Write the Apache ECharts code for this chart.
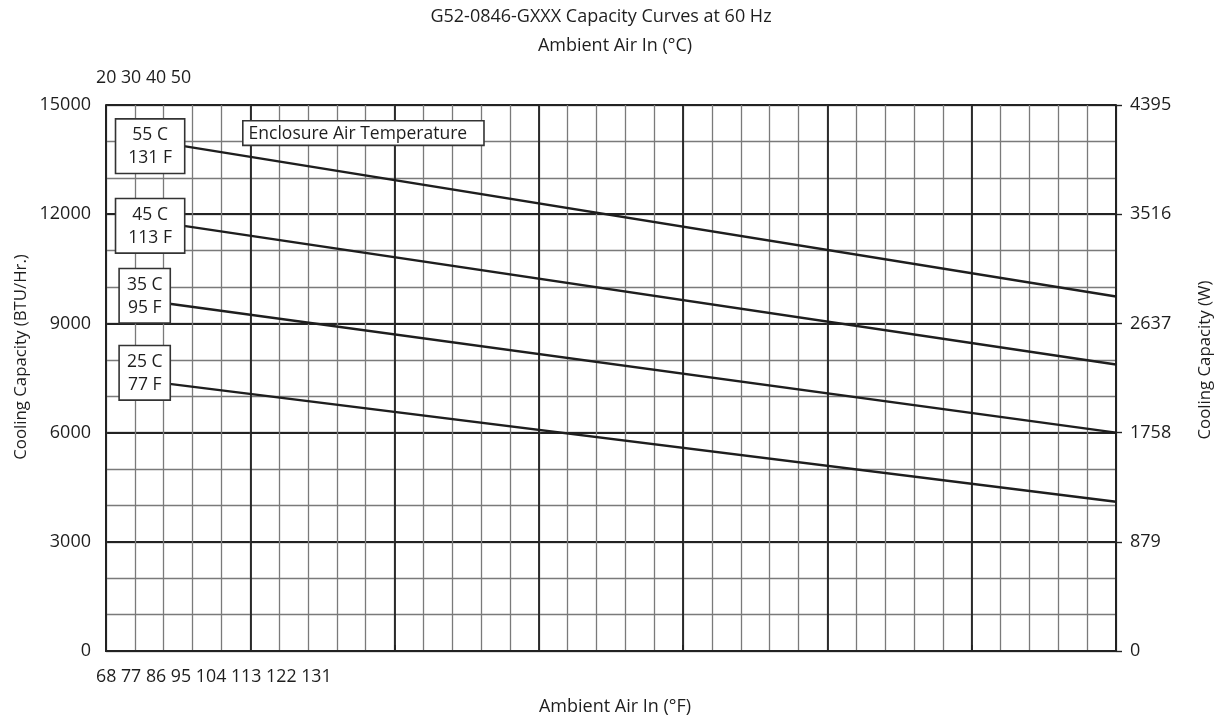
<!DOCTYPE html>
<html>
<head>
<meta charset="utf-8">
<script src="https://cdn.jsdelivr.net/npm/echarts@6/dist/echarts.min.js"></script>
<style>
  html, body { margin: 0; padding: 0; background: #fff; }
  #chart { width: 1223px; height: 720px; }
</style>
</head>
<body>
<div id="chart"></div>
<script>
// ambient air in °C (x) vs cooling capacity BTU/Hr (y), one line per enclosure temp
const curveNames = ['55 C\n131 F', '45 C\n113 F', '35 C\n95 F', '25 C\n77 F'];
const curveStartC = [22.7, 22.7, 22.2, 22.2];
const curveEndC = [55, 55, 55, 55];
const curveStartBtu = [13870, 11680, 9540, 7340];
const curveEndBtu = [9740, 7870, 6000, 4100];
// label box tweaks so they sit like the original
const labelShift = [0, 0, -8, -11];
const labelPadX = [12, 12, 7, 7];

const celsiusTicks = ['20', '30', '40', '50'];
const fahrenheitTicks = ['68', '77', '86', '95', '104', '113', '122', '131'];
const wattTicks = [0, 879, 1758, 2637, 3516, 4395];

const FONT = '"Open Sans", "DejaVu Sans", sans-serif';
const INK = '#1e1e1e';
const MINOR = '#7a7a7a';
const MAJOR = '#222';

const series = curveNames.map((name, i) => ({
  name: name,
  type: 'line',
  xAxisIndex: 0,
  yAxisIndex: 0,
  symbol: 'circle',
  symbolSize: 0.01,
  lineStyle: { color: INK, width: 2.4 },
  itemStyle: { color: INK },
  emphasis: { disabled: true },
  z: 5,
  data: [
    {
      value: [curveStartC[i], curveStartBtu[i]],
      label: {
        show: true,
        position: 'left',
        distance: 0,
        offset: [0, labelShift[i]],
        formatter: name.split('\n').map(s => '{c|' + s + '}').join('\n'),
        rich: {
          c: { fontFamily: FONT, fontSize: 17.5, lineHeight: 23, align: 'center', color: INK }
        },
        backgroundColor: '#fff',
        borderColor: '#333',
        borderWidth: 1.6,
        padding: [4, labelPadX[i], 3, labelPadX[i]]
      }
    },
    [curveEndC[i], curveEndBtu[i]]
  ]
}));

const chart = echarts.init(document.getElementById('chart'));
chart.setOption({
  backgroundColor: '#fff',
  animation: false,
  grid: { left: 106, right: 107, top: 105, bottom: 69 },
  xAxis: [
    {
      type: 'value', position: 'bottom', min: 20, max: 55, interval: 1,
      axisLine: { show: true, lineStyle: { color: MAJOR, width: 2 } },
      axisTick: { show: false },
      axisLabel: { show: false },
      splitLine: { show: true, lineStyle: { color: MINOR, width: 1.3 } }
    },
    {
      type: 'value', position: 'top', min: 20, max: 55, interval: 10,
      axisLine: { show: true, lineStyle: { color: MAJOR, width: 2 } },
      axisTick: { show: true, length: 6, lineStyle: { color: MAJOR, width: 1.6 } },
      axisLabel: { show: false },
      minorTick: { show: false, splitNumber: 2 },
      splitLine: { show: true, lineStyle: { color: MAJOR, width: 1.8 } },
      minorSplitLine: { show: true, lineStyle: { color: MAJOR, width: 1.8 } }
    }
  ],
  yAxis: [
    {
      type: 'value', position: 'left', min: 0, max: 15000, interval: 1000,
      axisLine: { show: true, lineStyle: { color: MAJOR, width: 2 } },
      axisTick: { show: false },
      axisLabel: {
        margin: 15, color: INK, fontFamily: FONT, fontSize: 18,
        formatter: v => (v % 3000 === 0 ? String(v) : '')
      },
      splitLine: { show: true, lineStyle: { color: MINOR, width: 1.3 } }
    },
    {
      type: 'value', position: 'right', min: 0, max: wattTicks[wattTicks.length - 1], interval: 879,
      axisLine: { show: true, lineStyle: { color: MAJOR, width: 2 } },
      axisTick: { show: true, length: 6, lineStyle: { color: MAJOR, width: 1.4 } },
      axisLabel: {
        margin: 14, color: INK, fontFamily: FONT, fontSize: 18,
        formatter: v => String(v)
      },
      splitLine: { show: true, lineStyle: { color: MAJOR, width: 1.8 } }
    }
  ],
  graphic: [
    {
      type: 'text', x: 601, y: 17,
      style: {
        text: 'G52-0846-GXXX Capacity Curves at 60 Hz', font: '18px ' + FONT, fill: INK,
        align: 'center', verticalAlign: 'middle'
      }
    },
    {
      type: 'text', x: 615, y: 46,
      style: {
        text: 'Ambient Air In (°C)', font: '18px ' + FONT, fill: INK,
        align: 'center', verticalAlign: 'middle'
      }
    },
    {
      type: 'text', x: 96, y: 78,
      style: {
        text: celsiusTicks.join(' '), font: '17.8px ' + FONT, fill: INK,
        align: 'left', verticalAlign: 'middle'
      }
    },
    {
      type: 'text', x: 96, y: 677,
      style: {
        text: fahrenheitTicks.join(' '), font: '17.8px ' + FONT, fill: INK,
        align: 'left', verticalAlign: 'middle'
      }
    },
    {
      type: 'text', x: 615, y: 707,
      style: {
        text: 'Ambient Air In (°F)', font: '18px ' + FONT, fill: INK,
        align: 'center', verticalAlign: 'middle'
      }
    },
    {
      type: 'text', x: 21, y: 357, rotation: Math.PI / 2,
      style: {
        text: 'Cooling Capacity (BTU/Hr.)', font: '16.8px ' + FONT, fill: INK,
        align: 'center', verticalAlign: 'middle'
      }
    },
    {
      type: 'text', x: 1205, y: 360, rotation: Math.PI / 2,
      style: {
        text: 'Cooling Capacity (W)', font: '16.8px ' + FONT, fill: INK,
        align: 'center', verticalAlign: 'middle'
      }
    },
    {
      type: 'text', left: 242, top: 120, z: 10,
      style: {
        text: 'Enclosure Air Temperature', font: '17.5px ' + FONT, fill: INK,
        backgroundColor: '#fff', borderColor: '#333', borderWidth: 1.6,
        padding: [3, 16, 2, 5]
      }
    }
  ],
  series: series
});
</script>
</body>
</html>
